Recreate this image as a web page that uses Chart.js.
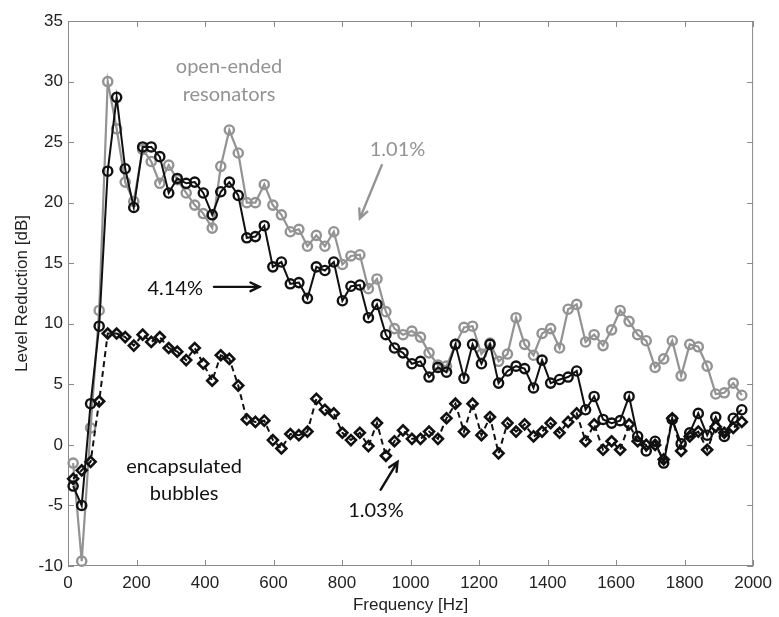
<!DOCTYPE html>
<html>
<head>
<meta charset="utf-8">
<script src="https://cdn.jsdelivr.net/npm/chart.js@4.4.1/dist/chart.umd.min.js"></script>
<style>
  html, body { margin: 0; padding: 0; background: #ffffff; }
  #wrap { width: 779px; height: 617px; position: relative; }
</style>
</head>
<body>
<div id="wrap"><canvas id="c" width="779" height="617"></canvas></div>
<script>
// Frequencies (Hz) of the measured points
const freqs = [15, 40, 66, 91, 116, 142, 167, 192, 218, 243,
  268, 294, 319, 345, 370, 395, 421, 446, 471, 497,
  522, 547, 573, 598, 623, 649, 674, 699, 725, 750,
  776, 801, 826, 852, 877, 902, 928, 953, 978, 1004,
  1029, 1054, 1080, 1105, 1131, 1156, 1181, 1207, 1232, 1257,
  1283, 1308, 1333, 1359, 1384, 1409, 1435, 1460, 1485, 1511,
  1536, 1562, 1587, 1612, 1638, 1663, 1688, 1714, 1739, 1764,
  1790, 1815, 1840, 1866, 1891, 1916, 1942, 1967];

// Open-ended resonators, 1.01% (gray circles)
const open101 = [-1.5, -9.6, 1.4, 11.1, 30.0, 26.1, 21.7, 20.1, 24.4, 23.4,
  21.6, 23.1, 21.9, 20.8, 19.8, 19.1, 17.9, 23.0, 26.0, 24.1,
  20.0, 20.0, 21.5, 19.8, 19.0, 17.6, 17.8, 16.4, 17.3, 16.4,
  17.6, 14.9, 15.6, 15.7, 12.9, 13.7, 11.0, 9.6, 9.1, 9.4,
  8.9, 7.6, 6.6, 6.5, 8.3, 9.7, 9.8, 7.5, 8.4, 6.9,
  7.5, 10.5, 8.3, 7.4, 9.2, 9.6, 8.0, 11.2, 11.6, 8.5,
  9.1, 8.2, 9.5, 11.1, 10.2, 9.1, 8.6, 6.4, 7.1, 8.6,
  5.7, 8.3, 8.1, 6.5, 4.2, 4.3, 5.1, 4.1];

// Open-ended resonators, 4.14% (black circles)
const open414 = [-3.4, -5.0, 3.4, 9.8, 22.6, 28.7, 22.8, 19.6, 24.6, 24.6,
  23.8, 20.8, 22.0, 21.6, 21.7, 20.8, 19.0, 20.9, 21.7, 20.6,
  17.1, 17.2, 18.1, 14.7, 15.1, 13.3, 13.4, 12.1, 14.7, 14.4,
  15.1, 11.9, 13.1, 13.2, 10.5, 11.6, 9.1, 8.0, 7.6, 6.7,
  6.9, 5.6, 6.4, 6.0, 8.3, 5.5, 8.3, 6.7, 8.3, 5.1,
  6.1, 6.5, 6.3, 4.7, 7.0, 5.1, 5.4, 5.6, 6.1, 2.9,
  4.0, 2.1, 1.8, 2.0, 4.0, 0.7, -0.5, 0.3, -1.5, 2.1,
  0.1, 1.0, 2.6, 0.8, 2.3, 0.7, 2.2, 2.9];

// Encapsulated bubbles, 1.03% (black diamonds, dashed)
const bubbles103 = [-2.8, -2.1, -1.4, 3.6, 9.2, 9.2, 8.9, 8.2, 9.1, 8.5,
  8.9, 8.0, 7.7, 7.0, 8.0, 6.7, 5.3, 7.4, 7.1, 4.9,
  2.1, 1.9, 2.0, 0.4, -0.3, 0.9, 0.8, 1.1, 3.8, 2.9,
  2.6, 1.0, 0.4, 1.0, -0.1, 1.8, -0.9, 0.3, 1.2, 0.5,
  0.5, 1.1, 0.5, 2.2, 3.4, 1.1, 3.4, 0.8, 2.3, -0.7,
  1.8, 1.1, 1.7, 0.7, 1.1, 1.8, 1.0, 1.9, 2.6, 0.3,
  1.7, -0.4, 0.3, -0.4, 1.7, 0.3, 0.0, 0.0, -1.2, 2.2,
  -0.5, 0.7, 1.1, -0.4, 1.5, 1.0, 1.4, 1.9];

const xTicks = [0, 200, 400, 600, 800, 1000, 1200, 1400, 1600, 1800, 2000];
const yTicks = [-10, -5, 0, 5, 10, 15, 20, 25, 30, 35];

const GRAY = '#939393';
const BLACK = '#111111';
const AXIS = '#8a8a8a';
const AXFONT = 'Arial, "Liberation Sans", Helvetica, sans-serif';

const pts = (ys) => freqs.map((f, i) => ({ x: f, y: ys[i] }));

// Annotations in data coordinates
const texts = [
  { t: 'open-ended', x: 470, y: 31.2, c: GRAY },
  { t: 'resonators', x: 470, y: 28.9, c: GRAY },
  { t: '1.01%', x: 962, y: 24.4, c: GRAY },
  { t: '4.14%', x: 313, y: 12.9, c: BLACK },
  { t: 'encapsulated', x: 339, y: -1.8, c: BLACK },
  { t: 'bubbles', x: 339, y: -4.0, c: BLACK },
  { t: '1.03%', x: 899, y: -5.45, c: BLACK }
];
const arrows = [
  { x1: 916, y1: 23.1, x2: 852, y2: 18.7, c: GRAY },
  { x1: 426, y1: 13.05, x2: 559, y2: 13.05, c: BLACK },
  { x1: 913, y1: -3.7, x2: 962, y2: -1.4, c: BLACK }
];

const decor = {
  id: 'decor',
  beforeDatasetsDraw(chart) {
    const { ctx, scales: { x, y } } = chart;
    const L = x.left, R = x.right, T = y.top, B = y.bottom;
    ctx.save();
    ctx.strokeStyle = AXIS;
    ctx.lineWidth = 1;
    ctx.strokeRect(L + 0.5, T + 0.5, R - L - 1, B - T - 1);
    const tl = 6;
    ctx.beginPath();
    xTicks.forEach(v => {
      const px = Math.round(x.getPixelForValue(v)) + 0.5;
      ctx.moveTo(px, B); ctx.lineTo(px, B - tl);
      ctx.moveTo(px, T); ctx.lineTo(px, T + tl);
    });
    yTicks.forEach(v => {
      const py = Math.round(y.getPixelForValue(v)) + 0.5;
      ctx.moveTo(L, py); ctx.lineTo(L + tl, py);
      ctx.moveTo(R, py); ctx.lineTo(R - tl, py);
    });
    ctx.stroke();
    ctx.restore();
  },
  afterDatasetsDraw(chart) {
    const { ctx, scales: { x, y } } = chart;
    ctx.save();
    ctx.font = '20px Lato, "Open Sans", sans-serif';
    ctx.textAlign = 'center';
    ctx.textBaseline = 'middle';
    texts.forEach(a => {
      ctx.fillStyle = a.c;
      ctx.fillText(a.t, x.getPixelForValue(a.x), y.getPixelForValue(a.y));
    });
    arrows.forEach(a => {
      const x1 = x.getPixelForValue(a.x1), y1 = y.getPixelForValue(a.y1);
      const x2 = x.getPixelForValue(a.x2), y2 = y.getPixelForValue(a.y2);
      const ang = Math.atan2(y2 - y1, x2 - x1);
      const h = 10, w = Math.PI / 7;
      ctx.strokeStyle = a.c;
      ctx.lineWidth = 2.4;
      ctx.lineCap = 'round';
      ctx.beginPath();
      ctx.moveTo(x1, y1); ctx.lineTo(x2, y2);
      ctx.moveTo(x2 - h * Math.cos(ang - w), y2 - h * Math.sin(ang - w));
      ctx.lineTo(x2, y2);
      ctx.lineTo(x2 - h * Math.cos(ang + w), y2 - h * Math.sin(ang + w));
      ctx.stroke();
    });
    ctx.restore();
  }
};

new Chart(document.getElementById('c'), {
  type: 'line',
  data: {
    datasets: [
      {
        label: '1.03% encapsulated bubbles',
        data: pts(bubbles103),
        borderColor: BLACK,
        borderWidth: 2,
        borderDash: [6, 4],
        pointStyle: 'rectRot',
        pointRadius: 5,
        pointBorderWidth: 2.6,
        pointBorderColor: BLACK,
        pointBackgroundColor: 'rgba(0,0,0,0)',
        fill: false,
        tension: 0,
        clip: 10,
        order: 1
      },
      {
        label: '4.14% open-ended resonators',
        data: pts(open414),
        borderColor: BLACK,
        borderWidth: 2,
        pointStyle: 'circle',
        pointRadius: 4.6,
        pointBorderWidth: 2.4,
        pointBorderColor: BLACK,
        pointBackgroundColor: 'rgba(0,0,0,0)',
        fill: false,
        tension: 0,
        clip: 10,
        order: 2
      },
      {
        label: '1.01% open-ended resonators',
        data: pts(open101),
        borderColor: GRAY,
        borderWidth: 2.2,
        pointStyle: 'circle',
        pointRadius: 4.6,
        pointBorderWidth: 2.4,
        pointBorderColor: GRAY,
        pointBackgroundColor: 'rgba(0,0,0,0)',
        fill: false,
        tension: 0,
        clip: 10,
        order: 3
      }
    ]
  },
  options: {
    responsive: false,
    animation: false,
    events: [],
    layout: { padding: { top: 21, right: 21, left: 0, bottom: 0 } },
    plugins: { legend: { display: false }, tooltip: { enabled: false } },
    scales: {
      x: {
        type: 'linear',
        min: 0, max: 2000,
        afterBuildTicks: (s) => { s.ticks = xTicks.map(v => ({ value: v })); },
        afterFit: (s) => { s.height = 51; },
        grid: { display: false, drawTicks: false },
        border: { display: false },
        ticks: { padding: 7, color: '#222', callback: (v) => String(v), font: { family: AXFONT, size: 17 }, maxRotation: 0 },
        title: { display: true, text: 'Frequency [Hz]', color: '#222', padding: { top: 0, bottom: 1 }, font: { family: AXFONT, size: 17 } }
      },
      y: {
        type: 'linear',
        min: -10, max: 35,
        afterBuildTicks: (s) => { s.ticks = yTicks.map(v => ({ value: v })); },
        afterFit: (s) => { s.width = 68; },
        grid: { display: false, drawTicks: false },
        border: { display: false },
        ticks: { padding: 5, color: '#222', callback: (v) => String(v), font: { family: AXFONT, size: 17 } },
        title: { display: true, text: 'Level Reduction [dB]', color: '#222', padding: { top: 12, bottom: 0 }, font: { family: AXFONT, size: 17 } }
      }
    }
  },
  plugins: [decor]
});
</script>
</body>
</html>
